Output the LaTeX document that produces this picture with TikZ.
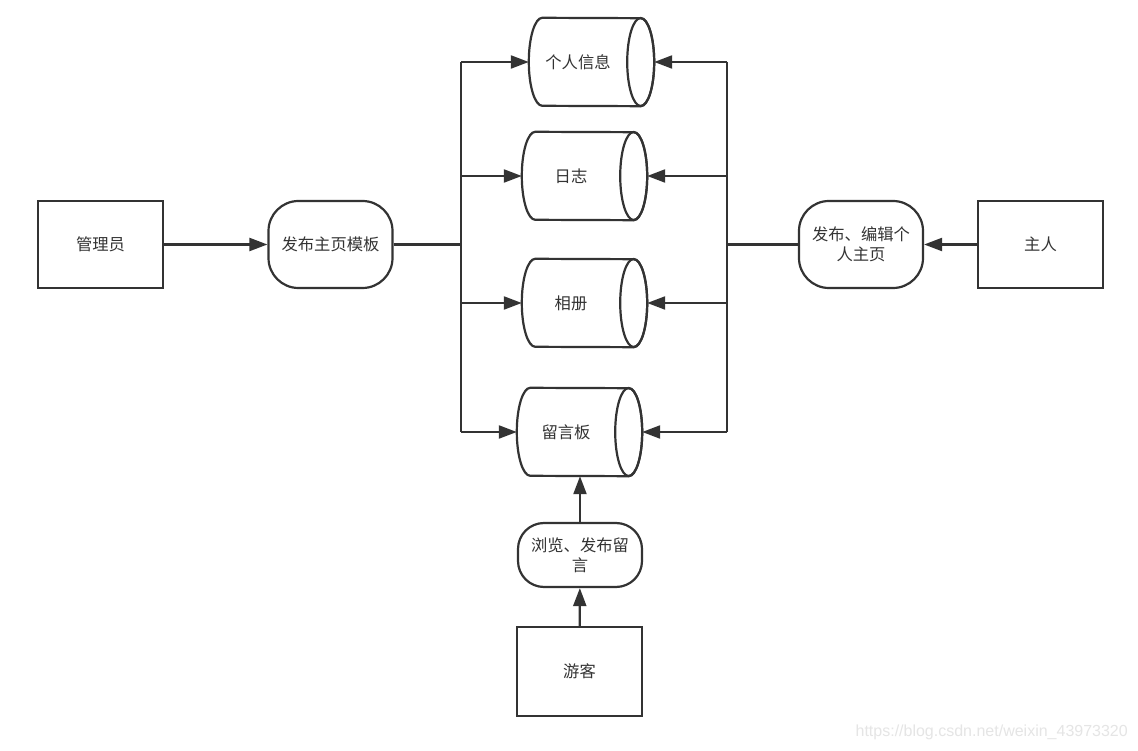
\documentclass[tikz,border=0pt]{standalone}
\usepackage{fontspec}
\setmainfont{Noto Sans CJK SC}
\newfontfamily\wmfont{Liberation Sans}
\usetikzlibrary{arrows.meta}
\definecolor{ink}{HTML}{333333}
\tikzset{
  ln/.style={draw=ink, line width=2.2pt},
  arr/.style={ln, -{Triangle[length=18pt,width=13pt]}},
  txt/.style={font=\fontsize{16.3pt}{20pt}\selectfont, text=ink, align=center, inner sep=0pt},
  boxnode/.style={txt, ln, minimum width=125pt, minimum height=87pt},
  roundnode/.style={txt, ln, rounded corners=30pt, minimum width=124pt, minimum height=87pt},
  cylbody/.style={txt, minimum width=98pt, minimum height=88pt},
}
\newcommand{\cylshape}[1]{%
  \draw[ln, fill=white] ([xshift=13.5pt]#1.north west)
    arc[start angle=90, end angle=270, x radius=13.5pt, y radius=44pt]
    -- ([xshift=13.5pt]#1.south east)
    arc[start angle=-90, end angle=90, x radius=13.5pt, y radius=44pt] -- cycle;
  \draw[ln] ([xshift=13.5pt]#1.east) ellipse[x radius=13.5pt, y radius=44pt];
}
\begin{document}
\begin{tikzpicture}[x=1pt, y=1pt]
\useasboundingbox (0,0) rectangle (1138,750);
\fill[white] (0,0) rectangle (1138,750);

\node[cylbody] (info) at (578,688) {};
\node[cylbody] (log)  at (571,574) {};
\node[cylbody] (album) at (571,447) {};
\node[cylbody] (board) at (566,318) {};
\cylshape{info}
\cylshape{log}
\cylshape{album}
\cylshape{board}
\node[txt] (infot) at (info) {个人信息};
\node[txt] (logt) at (log) {日志};
\node[txt] (albumt) at (album) {相册};
\node[txt] (boardt) at (board) {留言板};

\coordinate (infoR) at ([xshift=27pt]info.east);
\coordinate (logR) at ([xshift=27pt]log.east);
\coordinate (albumR) at ([xshift=27pt]album.east);
\coordinate (boardR) at ([xshift=27pt]board.east);

\node[boxnode] (admin) at (100.5,505.5) {管理员};
\node[roundnode] (tpl) at (330.5,505.5) {发布主页模板};
\node[roundnode] (edit) at (861,505.5) {发布、编辑个\\人主页};
\node[boxnode] (owner) at (1040.5,505.5) {主人};
\node[roundnode, minimum height=64pt, rounded corners=26pt] (browse) at (580,195) {浏览、发布留\\言};
\node[boxnode, minimum height=89pt] (guest) at (579.5,78.5) {游客};

\coordinate (busL) at (461,505.5);
\coordinate (busR) at (727,505.5);

\draw[arr] (admin) -- (tpl);
\draw[ln] (tpl.east) -- (busL);
\draw[ln] (busL |- info.west) -- (busL |- board.west);
\draw[arr] (busL |- info.west) -- (info.west);
\draw[arr] (busL |- log.west) -- (log.west);
\draw[arr] (busL |- album.west) -- (album.west);
\draw[arr] (busL |- board.west) -- (board.west);

\draw[arr] (owner) -- (edit);
\draw[ln] (edit.west) -- (busR);
\draw[ln] (busR |- infoR) -- (busR |- boardR);
\draw[arr] (busR |- infoR) -- (infoR);
\draw[arr] (busR |- logR) -- (logR);
\draw[arr] (busR |- albumR) -- (albumR);
\draw[arr] (busR |- boardR) -- (boardR);

\draw[arr] (guest) -- (browse);
\draw[arr] (browse.north) -- (browse.north |- board.south);

\node[anchor=east, inner sep=0pt, text=black!10, font=\wmfont\fontsize{16pt}{18pt}\selectfont] (wm) at (1128,18) {https://blog.csdn.net/weixin\_43973320};
\end{tikzpicture}
\end{document}
